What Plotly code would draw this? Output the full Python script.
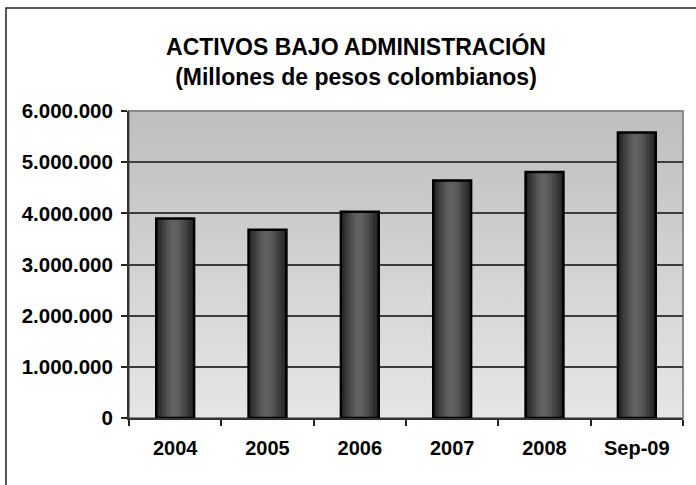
import base64
import plotly.graph_objects as go

categories = ["2004", "2005", "2006", "2007", "2008", "Sep-09"]
values = [3900000, 3680000, 4030000, 4640000, 4810000, 5580000]
y_ticks = [0, 1000000, 2000000, 3000000, 4000000, 5000000, 6000000]

FONT = "Liberation Sans, Arial, sans-serif"
BAR_W = 0.41

# background gradient for the plot area (svg data uri)
svg = ('<svg xmlns="http://www.w3.org/2000/svg" width="100" height="100" preserveAspectRatio="none">'
       '<defs><linearGradient id="g" x1="0" y1="0" x2="0" y2="1">'
       '<stop offset="0" stop-color="#bebebe"/><stop offset="1" stop-color="#e6e6e6"/>'
       '</linearGradient></defs><rect width="100" height="100" fill="url(#g)"/></svg>')
bg_uri = "data:image/svg+xml;base64," + base64.b64encode(svg.encode()).decode()

fig = go.Figure()

# bar shading layers (outer dark -> inner light)
layers = [(1.00, "#262626"), (0.86, "#313131"), (0.72, "#3c3c3c"),
          (0.58, "#474747"), (0.44, "#525252"), (0.30, "#5b5b5b"), (0.16, "#616161")]
for frac, col in layers:
    w = BAR_W * frac
    shift = -0.03 * BAR_W * (1 - frac)
    fig.add_trace(go.Bar(
        x=categories, y=values, width=w, offset=-w / 2 + shift,
        marker=dict(color=col, line=dict(width=0)),
        hoverinfo="skip", showlegend=False))
# outline
fig.add_trace(go.Bar(
    x=categories, y=values, width=BAR_W, offset=-BAR_W / 2,
    marker=dict(color="rgba(0,0,0,0)", line=dict(color="black", width=2.5)),
    showlegend=False))

L, R, T, B = 129, 13, 111, 67
W, H = 696, 485
pw, ph = W - L - R, H - T - B

fig.update_layout(
    width=W, height=H,
    margin=dict(l=L, r=R, t=T, b=B),
    paper_bgcolor="white",
    plot_bgcolor="rgba(0,0,0,0)",
    barmode="overlay",
    separators=",.",
    font=dict(family=FONT, color="black", size=20, weight="bold"),
    title=dict(
        text="ACTIVOS BAJO ADMINISTRACIÓN<br>(Millones de pesos colombianos)",
        x=356 / W, xref="container", xanchor="center",
        y=1 - 55 / H, yref="container", yanchor="middle",
        font=dict(family=FONT, size=23, color="black", weight="bold")),
    images=[dict(source=bg_uri, xref="paper", yref="paper", x=0, y=1,
                 sizex=1, sizey=1, xanchor="left", yanchor="top",
                 sizing="stretch", layer="below")],
    shapes=[
        dict(type="rect", xref="paper", yref="paper", x0=0, x1=1, y0=0, y1=1,
             line=dict(color="#8a8a8a", width=2), layer="below"),
        dict(type="rect", xref="paper", yref="paper",
             x0=(6 - L) / pw, x1=(720 - L) / pw,
             y0=(H - B - 520) / ph, y1=(H - B - 8) / ph,
             line=dict(color="#222222", width=1.5)),
    ],
    xaxis=dict(
        type="category", tickson="boundaries", ticks="outside", ticklen=6,
        tickcolor="#222", tickwidth=1.5, showline=True, linecolor="#333",
        linewidth=2, showgrid=False, ticklabelstandoff=11,
        tickfont=dict(family=FONT, size=20, color="black", weight="bold")),
    yaxis=dict(
        range=[0, 6000000], tickvals=y_ticks, tickformat=",d",
        ticks="outside", ticklen=6, tickcolor="#222", tickwidth=1.5,
        showline=True, linecolor="#333", linewidth=2,
        showgrid=True, gridcolor="#3c3c3c", gridwidth=1.5, zeroline=False,
        ticklabelstandoff=4,
        tickfont=dict(family=FONT, size=20.5, color="black", weight="bold")),
)

fig.write_html("out.html", config={"displayModeBar": False},
               post_script="document.body.style.margin='0px';")
